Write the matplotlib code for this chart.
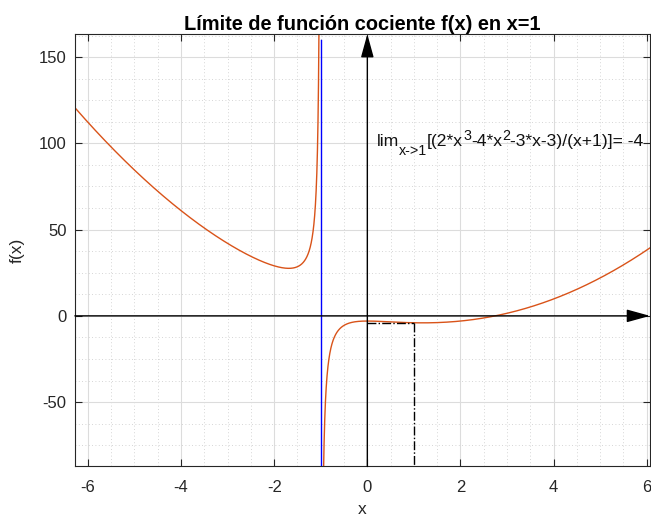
import numpy as np
import matplotlib
matplotlib.use("Agg")
import matplotlib.pyplot as plt
from matplotlib.ticker import MultipleLocator

# Data: f(x) = (2x^3-4x^2-3x-3)/(x+1)
num_coeffs = [2, -4, -3, -3]
den_coeffs = [1, 1]
x_point = 1
limit_value = -4
asymptote_x = -1
xlim = (-6.28, 6.07)
ylim = (-87.3, 163.3)
xticks = [-6, -4, -2, 0, 2, 4, 6]
yticks = [-50, 0, 50, 100, 150]

plt.rcParams['font.family'] = ['Liberation Sans', 'DejaVu Sans']
plt.rcParams['axes.unicode_minus'] = False

fig = plt.figure(figsize=(6.51, 5.17), dpi=100)
ax = fig.add_axes([0.115, 0.0977, 0.8835, 0.8363])

def f(x):
    return np.polyval(num_coeffs, x) / np.polyval(den_coeffs, x)

xl = np.linspace(xlim[0], asymptote_x - 1e-4, 4000)
xr = np.linspace(asymptote_x + 1e-4, xlim[1], 4000)
col = '#D95319'
ax.plot(xl, f(xl), color=col, lw=1.0)
ax.plot(xr, f(xr), color=col, lw=1.0)

# asymptote
ax.plot([asymptote_x, asymptote_x], [ylim[0], 160], color='#0000FF', lw=1.0)

# limit guides
ax.plot([0, x_point], [limit_value, limit_value], color='black', ls='-.', lw=1.0)
ax.plot([x_point, x_point], [limit_value, ylim[0]], color='black', ls='-.', lw=1.0)

# axes arrows
astyle = '-|>,head_length=0.8,head_width=0.22'
ax.annotate('', xy=(xlim[1], 0), xytext=(xlim[0], 0),
            arrowprops=dict(arrowstyle=astyle, color='black', lw=1.0,
                            mutation_scale=18, shrinkA=0, shrinkB=0))
ax.annotate('', xy=(0, ylim[1]), xytext=(0, ylim[0]),
            arrowprops=dict(arrowstyle=astyle, color='black', lw=1.0,
                            mutation_scale=18, shrinkA=0, shrinkB=0))

# limit annotation, built from pieces (normal / sub / sup)
pieces = [('lim', 0), ('x->1', -1), ('[(2*x', 0), ('3', 1), ('-4*x', 0), ('2', 1),
          ('-3*x-3)/(x+1)]= -4', 0)]
main_fs, small_fs = 12.6, 10.3
shift = {-1: -6.0, 0: 0.0, 1: 4.5}
prev = ax.text(0.2, 98.3, pieces[0][0], fontsize=main_fs, va='baseline', ha='left',
               color='#111111')
prev_level = 0
for txt, lvl in pieces[1:]:
    dy = shift[lvl] - shift[prev_level]
    prev = ax.annotate(txt, xy=(1, 0), xycoords=prev, xytext=(0, dy),
                       textcoords='offset points', va='bottom', ha='left',
                       fontsize=main_fs if lvl == 0 else small_fs, color='#111111')
    prev_level = lvl

ax.set_xlim(*xlim)
ax.set_ylim(*ylim)
ax.set_xticks(xticks)
ax.set_yticks(yticks)
ax.xaxis.set_minor_locator(MultipleLocator(0.5))
ax.yaxis.set_minor_locator(MultipleLocator(12.5))
ax.grid(which='major', color='#DCDCDC', lw=0.8, ls='-')
ax.grid(which='minor', color='#C8C8C8', lw=0.6, ls=(0, (1, 3)))
ax.set_axisbelow(True)
ax.tick_params(which='major', direction='in', top=True, right=True, length=5,
               labelsize=12, colors='#262626', width=0.8)
ax.tick_params(axis='x', pad=10)
ax.tick_params(axis='y', pad=6)
ax.tick_params(which='minor', length=0)
for s in ax.spines.values():
    s.set_color('#262626')
    s.set_linewidth(0.8)

ax.set_title('Límite de función cociente f(x) en x=1', fontsize=14.4, fontweight='bold', pad=3)
ax.set_xlabel('x', fontsize=12.5, color='#262626', labelpad=5)
ax.set_ylabel('f(x)', fontsize=12.5, color='#262626', labelpad=10)

fig.savefig('out.png', dpi=100)
